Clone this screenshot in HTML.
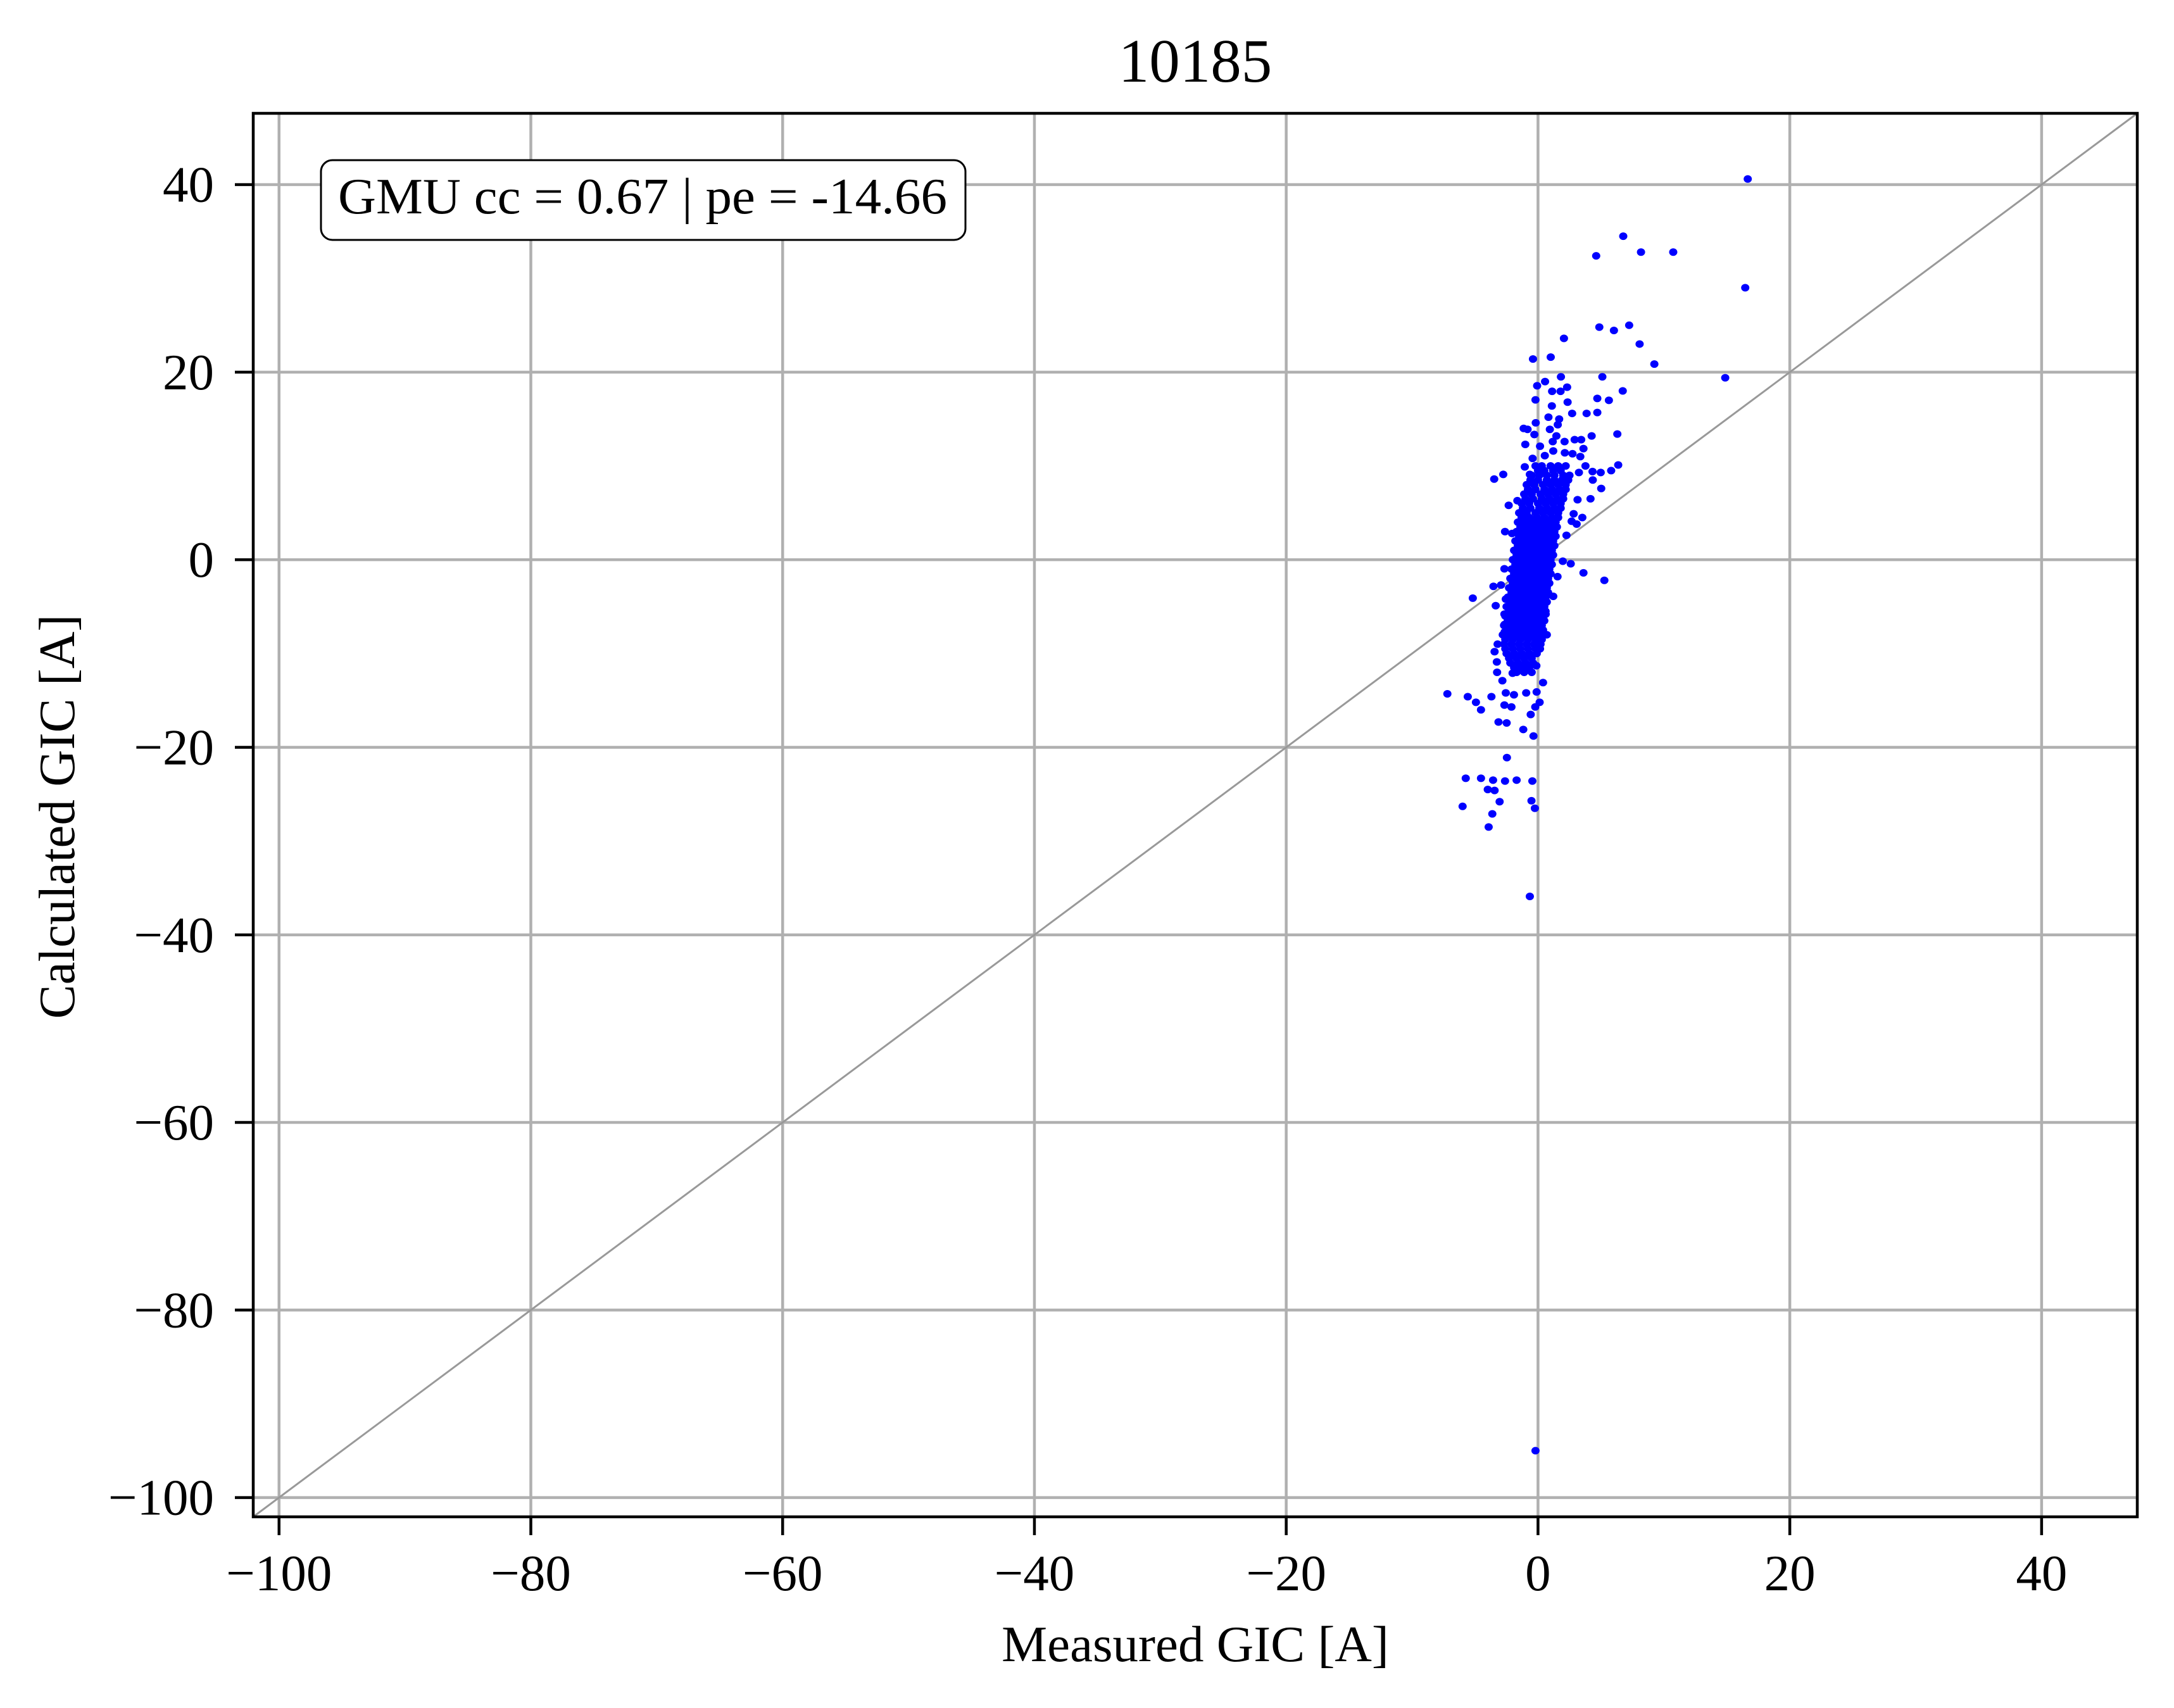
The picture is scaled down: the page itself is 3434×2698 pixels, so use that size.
<!DOCTYPE html>
<html><head><meta charset="utf-8"><style>
html,body{margin:0;padding:0;background:#fff;}
svg{display:block;}
text{font-family:"Liberation Serif","Times New Roman",serif;fill:#000;}
</style></head><body>
<svg id="chart" width="3434" height="2698" viewBox="0 0 3434 2698" xmlns="http://www.w3.org/2000/svg">
<rect width="3434" height="2698" fill="#fff"/>
<g id="grid"></g>
<line id="diag" stroke="#999" stroke-width="3"/>
<g id="pts" fill="#0000ff"></g>
<rect x="400" y="179" width="2976" height="2217" fill="none" stroke="#000" stroke-width="4.5"/>
<g id="ticks"></g>
<text x="1888" y="129" font-size="97" text-anchor="middle">10185</text>
<text x="1888" y="2624" font-size="81" text-anchor="middle">Measured GIC [A]</text>
<text transform="translate(117,1290) rotate(-90)" font-size="81" text-anchor="middle">Calculated GIC [A]</text>
<g>
<rect x="507" y="253" width="1018" height="126" rx="18" fill="#fff" stroke="#000" stroke-width="3"/>
<text x="534" y="337" font-size="80" textLength="962" lengthAdjust="spacingAndGlyphs">GMU cc = 0.67 | pe = -14.66</text>
</g>
</svg>
<script>
const xTicks = [-100,-80,-60,-40,-20,0,20,40];
const yTicks = [-100,-80,-60,-40,-20,0,20,40];
const xTickLabels = ["\u2212100","\u221280","\u221260","\u221240","\u221220","0","20","40"];
const yTickLabels = ["\u2212100","\u221280","\u221260","\u221240","\u221220","0","20","40"];
const axisMin = -102.05, axisMax = 47.6;
const outlierMeasured = [16.66,6.77,4.62,8.18,10.74,16.46,4.87,6.03,7.24,8.07,9.24,2.06,1.01,-0.40,5.11,6.73,14.87,1.82,0.56,-0.07,1.12,1.79,2.31,-0.20,1.10,2.35,4.71,5.63,4.71,3.86,2.71,0.83,1.68,1.57,-0.18,0.94,-1.14,-0.83,-0.29,4.26,6.30,1.46,2.11,1.17,2.91,3.43,-1.01,0.16,3.61,1.21,2.13,2.74,3.36,-0.43,0.54,3.77,6.37,5.81,-1.05,3.25,4.33,4.98,4.35,5.02,-3.48,-2.76,-0.65,4.17,3.14,-1.64,-2.33,-1.12,2.83,3.52,2.67,3.07,-2.62,-2.06,2.26,-1.37,3.61,5.27,2.60,1.97,1.55,-2.67,-3.54,-2.94,-5.18,-3.36,-2.56,-2.67,1.21,0.61,-2.65,-2.65,0.70,-3.21,-3.45,-3.27,-3.25,-2.83,0.40,-2.02,-0.13,0.16,-7.20,-5.58,-4.93,-4.53,-3.70,-2.56,-1.91,-2.67,-2.11,-0.94,-0.11,0.13,-0.22,-0.58,-3.14,-2.49,-1.17,-0.36,-2.47,-5.74,-4.53,-3.57,-2.62,-1.70,-0.45,-3.99,-3.45,-3.05,-0.52,-0.25,-5.99,-3.63,-3.92,-0.65,-0.2];
const outlierCalculated = [40.6,34.5,32.4,32.8,32.8,29.0,24.8,24.45,25.0,23.0,20.86,23.6,21.6,21.4,19.5,18.0,19.4,19.5,19.0,18.55,17.96,17.96,18.4,17.05,16.4,16.8,17.2,17.0,15.7,15.6,15.6,15.2,15.0,14.4,14.6,13.9,14.0,13.9,13.35,13.2,13.4,13.2,12.6,12.6,12.8,12.8,12.3,12.1,11.85,11.6,11.4,11.3,11.0,10.8,11.1,10.0,10.1,9.5,9.9,9.3,9.4,9.3,8.5,7.6,8.6,9.1,9.1,6.5,6.4,6.3,5.8,5.3,4.9,4.5,4.1,3.8,3.0,2.8,2.6,3.75,-1.4,-2.2,-0.43,-0.16,-1.8,-0.97,-2.84,-2.7,-4.1,-4.9,-4.2,-5.8,-3.9,-5.8,-6.9,-7.7,-8.0,-9.0,-9.8,-10.9,-12.0,-12.9,-13.1,-12.1,-11.3,-9.5,-14.3,-14.6,-15.2,-16.0,-14.6,-14.2,-14.4,-15.5,-15.7,-14.2,-14.1,-15.2,-15.7,-16.5,-17.3,-17.4,-18.1,-18.8,-21.1,-23.3,-23.3,-23.5,-23.6,-23.5,-23.6,-24.5,-24.6,-25.8,-25.7,-26.5,-26.3,-27.1,-28.5,-35.9,-95.0];
const coreRowCalculated = [10,9.5,9,8.5,8,7.5,7,6.5,6,5.5,5,4.5,4,3.5,3,2.5,2,1.5,1,0.5,0,-0.5,-1,-1.5,-2,-2.5,-3,-3.5,-4,-4.5,-5,-5.5,-6,-6.5,-7,-7.5,-8,-8.5,-9,-9.5,-10,-10.5,-11,-11.5,-12];
const coreRowMeasured = [
[-0.2,0.3,1.0,1.6,2.2],[0.0,0.5,1.2,1.8],[-0.5,0.1,0.7,1.3,2.0,2.5],[-0.6,0.0,0.7,1.3,1.9,2.4],[-0.9,-0.3,0.4,1.0,1.6,2.2],[-0.8,-0.2,0.5,1.1,1.7,2.2],
[-1.1,-0.5,0.2,0.8,1.4,2.0],[-1.0,-0.4,0.3,0.9,1.5,2.0],[-1.3,-0.7,0.0,0.6,1.2,1.8],[-1.2,-0.6,0.1,0.7,1.3,1.8],[-1.5,-0.9,-0.2,0.4,1.0,1.6],[-1.3,-0.7,-0.1,0.5,1.1,1.6],
[-1.6,-1.0,-0.4,0.2,0.8,1.4],[-1.4,-0.8,-0.2,0.4,1.0,1.5],[-1.7,-1.1,-0.5,0.1,0.7,1.3],[-1.5,-0.9,-0.3,0.3,0.9,1.4],[-1.8,-1.2,-0.6,0.0,0.6,1.2],[-1.6,-1.0,-0.4,0.2,0.8,1.3],
[-1.9,-1.3,-0.7,-0.1,0.5,1.1],[-1.7,-1.1,-0.5,0.1,0.7,1.2],[-2.0,-1.4,-0.8,-0.2,0.4,1.0],[-1.8,-1.2,-0.6,0.0,0.6,1.1],[-2.1,-1.5,-0.9,-0.3,0.3,0.9],[-1.9,-1.3,-0.7,-0.1,0.5,1.0],
[-2.2,-1.6,-1.0,-0.4,0.2,0.8],[-2.0,-1.4,-0.8,-0.2,0.4,0.9],[-2.3,-1.7,-1.1,-0.5,0.1,0.7],[-2.1,-1.5,-0.9,-0.3,0.3,0.8],[-2.4,-1.8,-1.2,-0.6,0.0,0.6],[-2.2,-1.6,-1.0,-0.4,0.2,0.7],
[-2.5,-1.9,-1.3,-0.7,-0.1,0.5],[-2.3,-1.7,-1.1,-0.5,0.1,0.6],[-2.6,-2.0,-1.4,-0.8,-0.2,0.4],[-2.4,-1.8,-1.2,-0.6,0.0,0.5],[-2.7,-2.1,-1.5,-0.9,-0.3,0.3],[-2.5,-1.9,-1.3,-0.7,-0.1,0.4],
[-2.8,-2.2,-1.6,-1.0,-0.4,0.2],[-2.6,-2.0,-1.4,-0.8,-0.2,0.3],[-2.7,-2.1,-1.5,-0.9,-0.3,0.2],[-2.6,-2.0,-1.4,-0.8,-0.2],[-2.5,-1.9,-1.3,-0.7,-0.1],[-2.3,-1.7,-1.1,-0.5],[-2.2,-1.6,-1.0,-0.4],[-1.9,-1.3,-0.7],[-1.7,-1.1,-0.5]];

const L=400,R=3376,T=179,B=2396;
function sx(v){return L+(v-axisMin)/(axisMax-axisMin)*(R-L);}
function sy(v){return B-(v-axisMin)/(axisMax-axisMin)*(B-T);}
const NS="http://www.w3.org/2000/svg";
function mk(tag,attrs,parent){const e=document.createElementNS(NS,tag);for(const k in attrs)e.setAttribute(k,attrs[k]);parent.appendChild(e);return e;}
const grid=document.getElementById('grid'),ticks=document.getElementById('ticks'),pts=document.getElementById('pts');
xTicks.forEach((v,i)=>{
  const g=mk('line',{x1:sx(v),x2:sx(v),y1:T,y2:B,stroke:'#b0b0b0','stroke-width':4.5},grid);
  
  
  const t=mk('line',{x1:sx(v),x2:sx(v),y1:B,y2:B+29,stroke:'#000','stroke-width':4.5},ticks);
  
  
  const l=mk('text',{x:sx(v),y:2512,'font-size':81,'text-anchor':'middle'},ticks);
  l.textContent=xTickLabels[i];
  
  
});
yTicks.forEach((v,i)=>{
  const g=mk('line',{x1:L,x2:R,y1:sy(v),y2:sy(v),stroke:'#b0b0b0','stroke-width':4.5},grid);
  
  
  const t=mk('line',{x1:L-29,x2:L,y1:sy(v),y2:sy(v),stroke:'#000','stroke-width':4.5},ticks);
  
  
  const l=mk('text',{x:338,y:sy(v)+27,'font-size':81,'text-anchor':'end'},ticks);
  l.textContent=yTickLabels[i];
  
  
});
const d=document.getElementById('diag');
d.setAttribute('x1',sx(axisMin));d.setAttribute('y1',sy(axisMin));
d.setAttribute('x2',sx(axisMax));d.setAttribute('y2',sy(axisMax));
function dot(x,y){
  const c=mk('ellipse',{cx:sx(x),cy:sy(y),rx:6.5,ry:6},pts);
  
  
}
coreRowCalculated.forEach((y,i)=>{coreRowMeasured[i].forEach(x=>dot(x,y));});
outlierMeasured.forEach((x,i)=>dot(x,outlierCalculated[i]));
</script>
</body></html>
